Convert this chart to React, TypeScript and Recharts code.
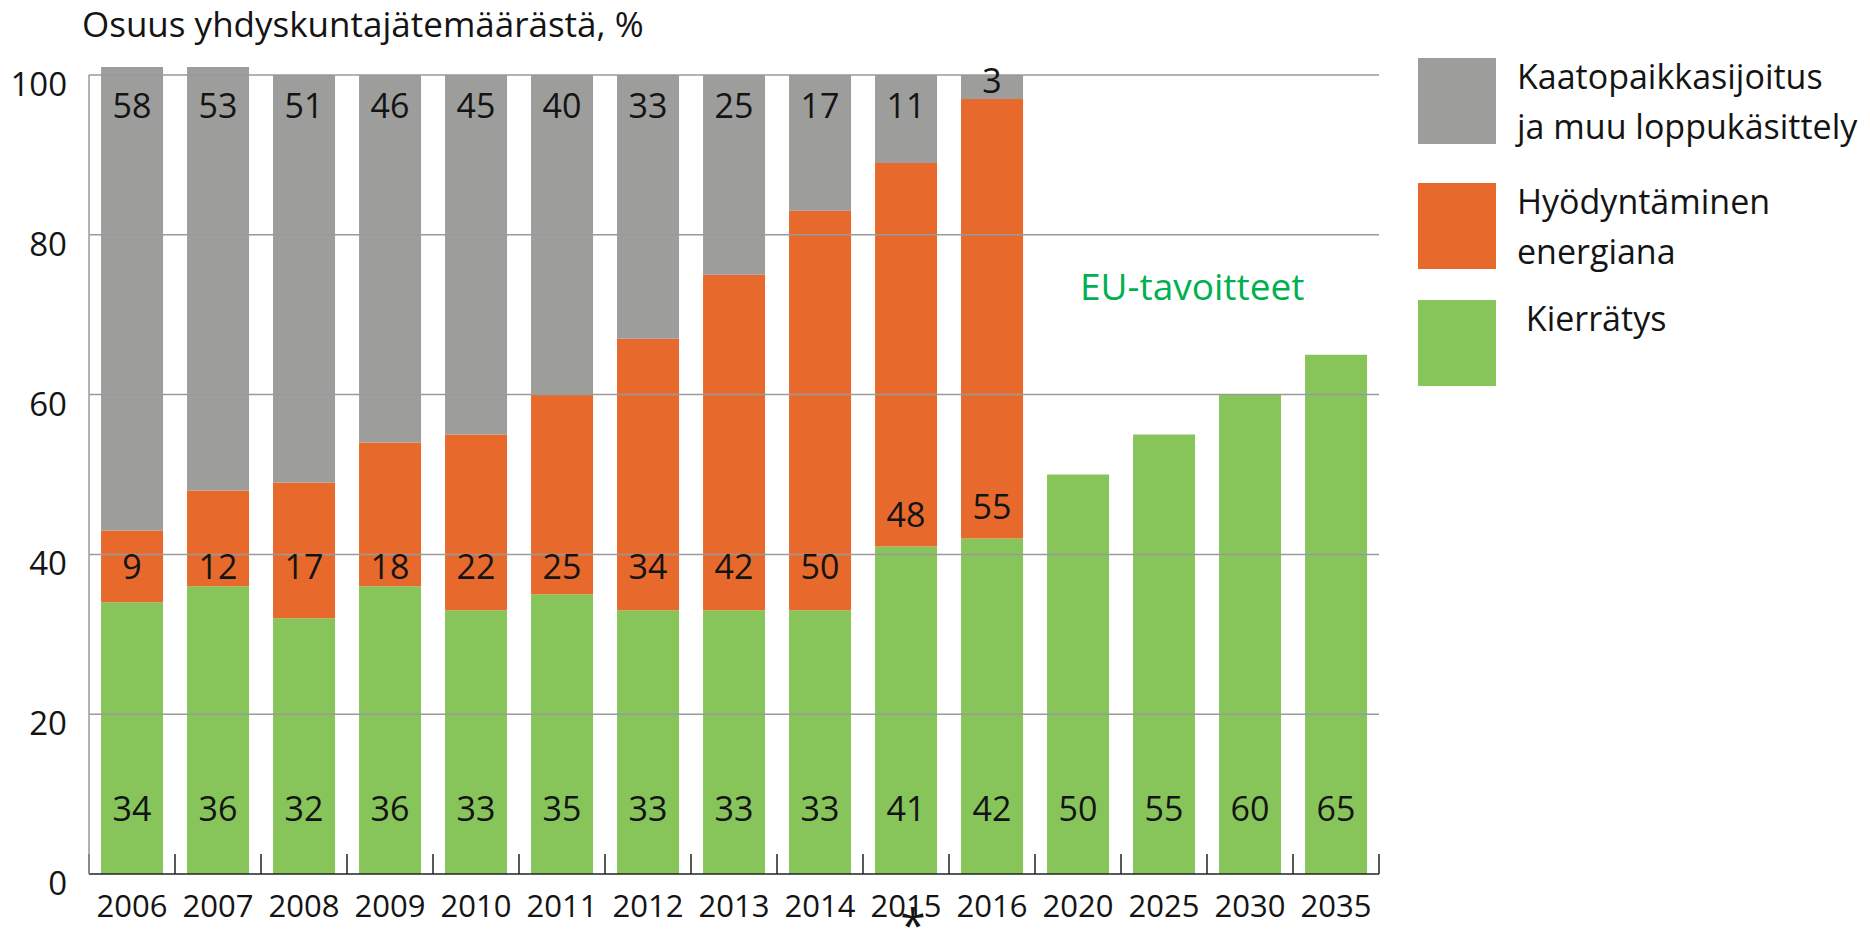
import { BarChart, Bar, XAxis, YAxis, LabelList, Legend, ReferenceLine } from 'recharts';

const years = ['2006', '2007', '2008', '2009', '2010', '2011', '2012', '2013', '2014', '2015', '2016', '2020', '2025', '2030', '2035'];
const kierratys = [34, 36, 32, 36, 33, 35, 33, 33, 33, 41, 42, 50, 55, 60, 65];
const energia = [9, 12, 17, 18, 22, 25, 34, 42, 50, 48, 55, null, null, null, null];
const kaatopaikka = [58, 53, 51, 46, 45, 40, 33, 25, 17, 11, 3, null, null, null, null];
const yTicks = [0, 20, 40, 60, 80, 100];

const seriesNames = {
  kaatopaikka: 'Kaatopaikkasijoitus\nja muu loppukäsittely',
  energia: 'Hyödyntäminen\nenergiana',
  kierratys: ' Kierrätys',
};

const data = years.map((year, i) => ({
  year,
  kierratys: kierratys[i],
  energia: energia[i],
  kaatopaikka: kaatopaikka[i],
}));

const FONT = "'Open Sans', sans-serif";
const GREY = '#9d9d9c';
const ORANGE = '#e8692c';
const GREEN = '#87c55b';
const TEXT = '#141414';

const W = 1870;
const H = 931;
const PLOT_LEFT = 89;
const PLOT_RIGHT = 1379;
const PLOT_TOP = 64;
const PLOT_BOTTOM = 874;
const PPU = 7.99;
const Y_MAX = (PLOT_BOTTOM - PLOT_TOP) / PPU;
const BAND = (PLOT_RIGHT - PLOT_LEFT) / years.length;
const Y100 = PLOT_BOTTOM - 100 * PPU;
const ORANGE_ROW = PLOT_BOTTOM - 308;
const X_AXIS_H = 44;

function valueText(cx: number, cy: number, v: any) {
  return (
    <text x={cx} y={cy} textAnchor="middle" dominantBaseline="central" fontSize={34} fill={TEXT} fontFamily={FONT}>
      {v}
    </text>
  );
}

function GreenLabel(p: any) {
  if (p.value == null) return null;
  return valueText(p.x + p.width / 2, p.y + p.height - 66, p.value);
}

function OrangeLabel(p: any) {
  if (p.value == null) return null;
  const bottom = p.y + p.height;
  const cy = bottom - ORANGE_ROW >= 18 ? ORANGE_ROW : bottom - 32;
  return valueText(p.x + p.width / 2, cy, p.value);
}

function GreyLabel(p: any) {
  if (p.value == null) return null;
  const cy = p.height > 40 ? Y100 + 30 : p.y + 5;
  return valueText(p.x + p.width / 2, cy, p.value);
}

function YearTick(props: any) {
  const { x, index, payload } = props;
  const left = x - BAND / 2;
  const right = x + BAND / 2;
  return (
    <g>
      <line x1={left} x2={left} y1={PLOT_BOTTOM} y2={PLOT_BOTTOM - 20} stroke="#222" strokeWidth={1.5} />
      {index === years.length - 1 && (
        <line x1={right} x2={right} y1={PLOT_BOTTOM} y2={PLOT_BOTTOM - 20} stroke="#222" strokeWidth={1.5} />
      )}
      <text x={x} y={PLOT_BOTTOM + 43} textAnchor="middle" fontSize={31} fill={TEXT} fontFamily={FONT}>
        {payload.value}
      </text>
      {payload.value === '2015' && (
        <text x={x + 7} y={PLOT_BOTTOM + 68} textAnchor="middle" fontSize={46} fill={TEXT} fontFamily={FONT}>
          *
        </text>
      )}
    </g>
  );
}

function ValueTick(props: any) {
  const { y, payload } = props;
  return (
    <g>
      {payload.value < 100 && (
        <line x1={PLOT_LEFT} x2={PLOT_LEFT} y1={y} y2={y - 20 * PPU} stroke="#999" strokeWidth={1.5} />
      )}
      <text x={67} y={y + 21} textAnchor="end" fontSize={33} fill={TEXT} fontFamily={FONT}>
        {payload.value}
      </text>
    </g>
  );
}

const legendTops = [0, 125, 242];

function LegendBox(props: any) {
  const items = [...(props.payload || [])].reverse();
  return (
    <svg width={452} height={340}>
      {items.map((item: any, i: number) => {
        const top = legendTops[i];
        const lines = String(item.value).split('\n');
        return (
          <g key={item.dataKey}>
            <rect x={0} y={top} width={78} height={86} fill={item.color} />
            {lines.map((line, j) => (
              <text
                key={j}
                x={99}
                y={top + 31 + j * 50}
                fontSize={34}
                fill={TEXT}
                fontFamily={FONT}
                style={{ whiteSpace: 'pre' }}
              >
                {line}
              </text>
            ))}
          </g>
        );
      })}
    </svg>
  );
}

export default function App() {
  return (
    <div style={{ position: 'absolute', left: 0, top: 0, width: W, height: H, background: '#fff' }}>
      <BarChart
        width={W}
        height={H}
        data={data}
        margin={{ top: PLOT_TOP, right: W - PLOT_RIGHT, bottom: H - PLOT_BOTTOM - X_AXIS_H, left: 0 }}
        barCategoryGap="14%"
      >
        <XAxis
          dataKey="year"
          interval={0}
          height={X_AXIS_H}
          tickLine={false}
          axisLine={{ stroke: '#222', strokeWidth: 1.5 }}
          tick={<YearTick />}
        />
        <YAxis
          type="number"
          width={PLOT_LEFT}
          domain={[0, Y_MAX]}
          ticks={yTicks}
          axisLine={false}
          tickLine={false}
          tick={<ValueTick />}
        />
        {yTicks
          .filter((t) => t > 0)
          .map((t) => (
            <ReferenceLine key={t} y={t} stroke="#9a9a9a" strokeWidth={1.5} />
          ))}
        <Legend
          layout="vertical"
          align="center"
          verticalAlign="middle"
          content={<LegendBox />}
          wrapperStyle={{ position: 'absolute', left: 1418, top: 58, width: 452, height: 340 }}
        />
        <Bar dataKey="kierratys" name={seriesNames.kierratys} stackId="a" fill={GREEN} isAnimationActive={false}>
          <LabelList dataKey="kierratys" content={<GreenLabel />} />
        </Bar>
        <Bar dataKey="energia" name={seriesNames.energia} stackId="a" fill={ORANGE} isAnimationActive={false}>
          <LabelList dataKey="energia" content={<OrangeLabel />} />
        </Bar>
        <Bar dataKey="kaatopaikka" name={seriesNames.kaatopaikka} stackId="a" fill={GREY} isAnimationActive={false}>
          <LabelList dataKey="kaatopaikka" content={<GreyLabel />} />
        </Bar>
      </BarChart>
      <svg
        width={W}
        height={H}
        style={{ position: 'absolute', left: 0, top: 0, pointerEvents: 'none' }}
      >
        <text x={82} y={37} fontSize={35} fill={TEXT} fontFamily={FONT}>
          Osuus yhdyskuntajätemäärästä, %
        </text>
        <text x={1080} y={300} fontSize={37} fill="#00b050" fontFamily={FONT}>
          EU-tavoitteet
        </text>
      </svg>
    </div>
  );
}
